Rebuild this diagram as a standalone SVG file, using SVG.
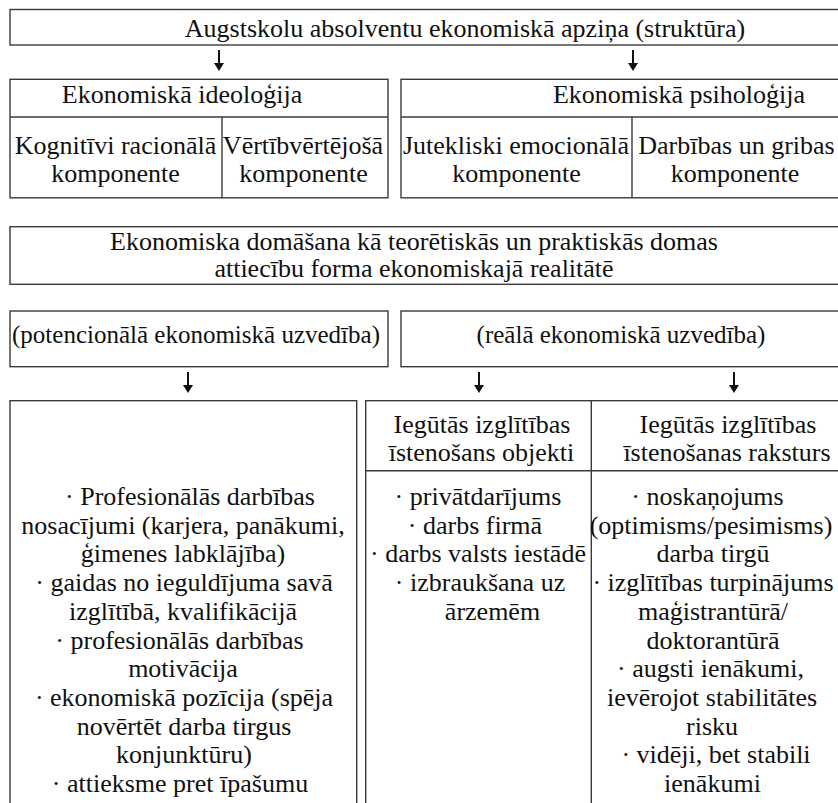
<svg xmlns="http://www.w3.org/2000/svg" width="838" height="803" viewBox="0 0 838 803">
<style>
  .box { fill: #ffffff; stroke: #3a3a3a; stroke-width: 1.4; }
  .ln { stroke: #3a3a3a; stroke-width: 1.4; fill: none; }
  text { font-family: 'Liberation Serif', Tinos, 'Times New Roman', 'DejaVu Serif', 'Noto Serif', serif; fill: #111; text-anchor: middle; }
  .t { font-size: 26px; }
  .r { font-size: 25px; }
  .b { font-size: 26px; }
  .stem { stroke: #111; stroke-width: 2; }
  .head { fill: #111; }
</style>
<defs>
  <g id="arrow">
    <line class="stem" x1="0" y1="0" x2="0" y2="15"/>
    <polygon class="head" points="-5,13 5,13 0,21"/>
  </g>
</defs>
<rect width="838" height="803" fill="#ffffff"/>

<g id="connectors">
  <use href="#arrow" x="219" y="50"/>
  <use href="#arrow" x="633" y="50"/>
  <use href="#arrow" x="188" y="372"/>
  <use href="#arrow" x="479" y="372"/>
  <use href="#arrow" x="734" y="372"/>
</g>

<g id="node-apzina">
  <rect class="box" x="10" y="9.5" width="860" height="35.5"/>
  <text class="t" x="465" y="37">Augstskolu absolventu ekonomiskā apziņa (struktūra)</text>
</g>

<g id="node-ideologija">
  <rect class="box" x="10" y="79.3" width="378" height="118.5"/>
  <line class="ln" x1="10" y1="117" x2="388" y2="117"/>
  <line class="ln" x1="222" y1="117" x2="222" y2="197.8"/>
  <text class="t" x="182" y="103">Ekonomiskā ideoloģija</text>
  <text class="t" x="115.5" y="154">Kognitīvi racionālā</text>
  <text class="t" x="115.5" y="181.5">komponente</text>
  <text class="t" x="303" y="154">Vērtībvērtējošā</text>
  <text class="t" x="303.5" y="181.5">komponente</text>
</g>

<g id="node-psihologija">
  <rect class="box" x="401" y="79.3" width="460" height="118.5"/>
  <line class="ln" x1="401" y1="117" x2="861" y2="117"/>
  <line class="ln" x1="632" y1="117" x2="632" y2="197.8"/>
  <text class="t" x="679" y="103">Ekonomiskā psiholoģija</text>
  <text class="t" x="516" y="154">Jutekliski emocionālā</text>
  <text class="t" x="516.5" y="181.5">komponente</text>
  <text class="t" x="736.5" y="154">Darbības un gribas</text>
  <text class="t" x="735" y="181.5">komponente</text>
</g>

<g id="node-domasana">
  <rect class="box" x="10" y="226.7" width="860" height="57.6"/>
  <text class="t" x="414" y="249.5">Ekonomiska domāšana kā teorētiskās un praktiskās domas</text>
  <text class="t" x="414" y="277">attiecību forma ekonomiskajā realitātē</text>
</g>

<g id="node-potenciala">
  <rect class="box" x="10" y="311" width="378" height="55.7"/>
  <text class="r" x="196" y="343">(potencionālā ekonomiskā uzvedība)</text>
</g>

<g id="node-reala">
  <rect class="box" x="401" y="311" width="460" height="55.7"/>
  <text class="r" x="621" y="343">(reālā ekonomiskā uzvedība)</text>
</g>

<g id="node-potenciala-saturs">
  <rect class="box" x="10" y="400.7" width="346.7" height="430"/>
  <text class="b" x="190" y="505">· Profesionālās darbības</text>
  <text class="b" x="183" y="533.7">nosacījumi (karjera, panākumi,</text>
  <text class="b" x="183" y="562.4">ģimenes labklājība)</text>
  <text class="b" x="184" y="591.1">· gaidas no ieguldījuma savā</text>
  <text class="b" x="183" y="619.8">izglītībā, kvalifikācijā</text>
  <text class="b" x="179.5" y="648.5">· profesionālās darbības</text>
  <text class="b" x="183" y="677.2">motivācija</text>
  <text class="b" x="184" y="705.9">· ekonomiskā pozīcija (spēja</text>
  <text class="b" x="184" y="734.6">novērtēt darba tirgus</text>
  <text class="b" x="184" y="763.3">konjunktūru)</text>
  <text class="b" x="180" y="792">· attieksme pret īpašumu</text>
</g>

<g id="node-reala-saturs">
  <rect class="box" x="365.7" y="400.7" width="500" height="430"/>
  <line class="ln" x1="365.7" y1="470.7" x2="866" y2="470.7"/>
  <line class="ln" x1="591.3" y1="400.7" x2="591.3" y2="831"/>
  <text class="b" x="482" y="432.7">Iegūtās izglītības</text>
  <text class="b" x="481.5" y="460.7">īstenošans objekti</text>
  <text class="b" x="728" y="432.7">Iegūtās izglītības</text>
  <text class="b" x="727" y="460.7">īstenošanas raksturs</text>

  <text class="b" x="478" y="505">· privātdarījums</text>
  <text class="b" x="475" y="533.7">· darbs firmā</text>
  <text class="b" x="478" y="562.4">· darbs valsts iestādē</text>
  <text class="b" x="480" y="591.1">· izbraukšana uz</text>
  <text class="b" x="492.5" y="619.8">ārzemēm</text>

  <text class="b" x="707.5" y="505">· noskaņojums</text>
  <text class="b" x="711" y="533.7">(optimisms/pesimisms)</text>
  <text class="b" x="713" y="562.4">darba tirgū</text>
  <text class="b" x="713" y="591.1">· izglītības turpinājums</text>
  <text class="b" x="713" y="619.8">maģistrantūrā/</text>
  <text class="b" x="713" y="648.5">doktorantūrā</text>
  <text class="b" x="710.5" y="677.2">· augsti ienākumi,</text>
  <text class="b" x="712" y="705.9">ievērojot stabilitātes</text>
  <text class="b" x="712" y="734.6">risku</text>
  <text class="b" x="716" y="763.3">· vidēji, bet stabili</text>
  <text class="b" x="712.5" y="792">ienākumi</text>
</g>
</svg>
